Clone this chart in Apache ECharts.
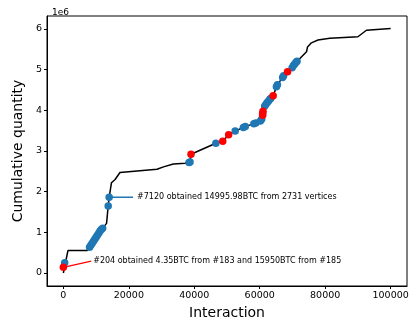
<!DOCTYPE html>
<html>
<head>
<meta charset="UTF-8">
<script src="https://cdn.jsdelivr.net/npm/echarts@6/dist/echarts.min.js"></script>
<style>html,body{margin:0;padding:0;background:#fff}#main{width:410px;height:321px}</style>
</head>
<body>
<div id="main"></div>
<script>
// cumulative curve (interaction, quantity)
var curveX = [0, 1400, 7300, 8000, 12100, 13200, 13700, 14000, 14700, 15800, 17300, 28600, 30600, 33600, 37200, 38700, 39000, 46600, 48700, 50500, 52500, 55500, 58500, 60600, 60900, 61000, 62100, 63300, 64100, 65300, 67200, 68500, 70000, 71400, 72800, 74300, 74600, 75800, 77800, 81400, 90000, 92600, 100000];
var curveY = [0, 0.55, 0.55, 0.63, 1.11, 1.22, 1.65, 1.86, 2.22, 2.30, 2.47, 2.55, 2.61, 2.68, 2.70, 2.73, 2.92, 3.19, 3.24, 3.40, 3.49, 3.60, 3.68, 3.76, 3.89, 3.98, 4.09, 4.30, 4.36, 4.62, 4.83, 4.95, 5.07, 5.20, 5.32, 5.44, 5.56, 5.66, 5.73, 5.77, 5.81, 5.97, 6.01];

// blue markers
var blueX = [400, 8000, 8400, 8800, 9200, 9600, 10000, 10400, 10800, 11200, 11600, 12000, 13700, 14000, 38400, 38700, 46600, 52500, 55000, 55600, 58200, 58800, 60200, 60600, 61500, 61900, 62300, 62700, 63100, 63400, 65100, 65400, 67000, 67300, 69900, 70300, 70700, 71100, 71400];
var blueY = [0.25, 0.63, 0.68, 0.73, 0.78, 0.83, 0.88, 0.93, 0.98, 1.03, 1.07, 1.10, 1.65, 1.86, 2.72, 2.73, 3.19, 3.49, 3.58, 3.60, 3.67, 3.69, 3.74, 3.78, 4.10, 4.15, 4.19, 4.23, 4.27, 4.30, 4.58, 4.63, 4.81, 4.85, 5.05, 5.10, 5.14, 5.18, 5.21];

// red markers
var redX = [0, 39000, 48700, 50500, 60900, 60900, 61000, 64100, 68500];
var redY = [0.14, 2.92, 3.24, 3.40, 3.88, 3.93, 3.98, 4.36, 4.95];

// annotations
var note1 = "#7120 obtained 14995.98BTC from 2731 vertices";
var note1X = [14000, 21300];
var note1Y = [1.86, 1.86];
var note2 = "#204 obtained 4.35BTC from #183 and 15950BTC from #185";
var note2X = [0, 8500];
var note2Y = [0.14, 0.29];

var xTicks = [0, 20000, 40000, 60000, 80000, 100000];
var yTicks = [0, 1, 2, 3, 4, 5, 6];

function pairs(xs, ys) {
    var out = [];
    for (var i = 0; i < xs.length; i++) out.push([xs[i], ys[i] * 1e6]);
    return out;
}

var FONT = 'DejaVu Sans';
var chart = echarts.init(document.getElementById('main'));

var option = {
    animation: false,
    textStyle: {fontFamily: FONT},
    title: {
        text: '1e6', left: 47, top: 3,
        textStyle: {fontFamily: FONT, fontSize: 9, fontWeight: 'normal', color: '#000'}
    },
    grid: {
        left: 47, right: 3, top: 16, bottom: 35,
        outerBoundsMode: 'none', containLabel: false,
        show: true, borderColor: '#000', borderWidth: 1
    },
    xAxis: {
        type: 'value', min: -5000, max: 105000,
        name: 'Interaction', nameLocation: 'middle', nameGap: 20,
        nameTextStyle: {fontFamily: FONT, fontSize: 14, color: '#000'},
        splitLine: {show: false},
        axisLine: {onZero: false, lineStyle: {color: '#000'}},
        axisTick: {length: 3, lineStyle: {color: '#000'}, customValues: xTicks},
        axisLabel: {
            fontFamily: FONT, fontSize: 9.5, color: '#000', margin: 5, customValues: xTicks,
            formatter: function (v) { return String(v); }
        }
    },
    yAxis: {
        type: 'value', min: -0.32e6, max: 6.32e6,
        name: 'Cumulative quantity', nameLocation: 'middle', nameGap: 20,
        nameTextStyle: {fontFamily: FONT, fontSize: 14, color: '#000'},
        splitLine: {show: false},
        axisLine: {onZero: false, lineStyle: {color: '#000'}},
        axisTick: {length: 3, lineStyle: {color: '#000'}, customValues: yTicks.map(function (v) { return v * 1e6; })},
        axisLabel: {
            fontFamily: FONT, fontSize: 9.5, color: '#000', margin: 5,
            customValues: yTicks.map(function (v) { return v * 1e6; }),
            formatter: function (v) { return String(Math.round(v / 1e6)); }
        }
    },
    series: [
        {
            type: 'line', data: pairs(curveX, curveY), showSymbol: false, symbol: 'none',
            lineStyle: {color: '#000', width: 1.5}, z: 1
        },
        {
            type: 'line', data: pairs(note1X, note1Y), symbol: 'none',
            lineStyle: {color: '#1f77b4', width: 1.5}, z: 2,
            endLabel: {show: true, formatter: note1, fontFamily: FONT, fontSize: 8, color: '#000', distance: 4}
        },
        {
            type: 'line', data: pairs(note2X, note2Y), symbol: 'none',
            lineStyle: {color: 'red', width: 1.3}, z: 2,
            endLabel: {show: true, formatter: note2, fontFamily: FONT, fontSize: 8, color: '#000', distance: 2}
        },
        {
            type: 'scatter', data: pairs(blueX, blueY), symbolSize: 7.5,
            itemStyle: {color: '#1f77b4', opacity: 1}, z: 3
        },
        {
            type: 'scatter', data: pairs(redX, redY), symbolSize: 7.5,
            itemStyle: {color: 'red', opacity: 1}, z: 4
        }
    ]
};
chart.setOption(option);
</script>
</body>
</html>
